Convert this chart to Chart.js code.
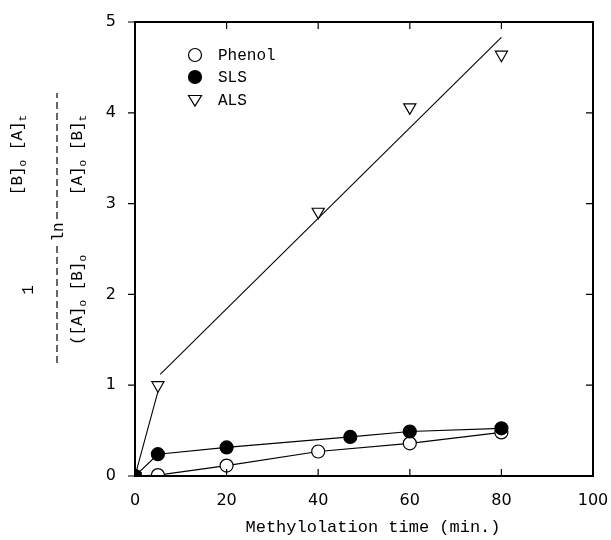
<!DOCTYPE html>
<html>
<head>
<meta charset="utf-8">
<script src="https://cdn.jsdelivr.net/npm/chart.js@4"></script>
<style>
  html, body { margin: 0; padding: 0; background: #fff; }
  #wrap { width: 611px; height: 540px; }
</style>
</head>
<body>
<div id="wrap"><canvas id="c" width="611" height="540"></canvas></div>
<script>
// values
const phenolTime = [0, 5, 20, 40, 60, 80];
const phenolVal = [0, 0.01, 0.115, 0.27, 0.36, 0.48];
const slsTime = [0, 5, 20, 47, 60, 80];
const slsVal = [0, 0.24, 0.315, 0.43, 0.49, 0.525];
const alsTime = [0, 5, 40, 60, 80];
const alsVal = [0, 1.0, 2.91, 4.06, 4.64];
const alsStartTime = [0, 5];
const alsStartVal = [0, 0.93];
const alsFitTime = [5.5, 80];
const alsFitVal = [1.12, 4.83];
const xTicks = [0, 20, 40, 60, 80, 100];
const yTicks = [0, 1, 2, 3, 4, 5];
const legendLabels = ['Phenol', 'SLS', 'ALS'];

const pts = (xs, ys) => xs.map((x, i) => ({ x: x, y: ys[i] }));
const MONO = '"Liberation Mono", "DejaVu Sans Mono", monospace';

const boxPlugin = {
  id: 'box',
  afterDatasetsDraw(chart) {
    const { ctx, chartArea: a, scales } = chart;
    ctx.save();
    ctx.strokeStyle = '#000';
    ctx.lineWidth = 2;
    ctx.strokeRect(a.left, a.top, a.right - a.left, a.bottom - a.top);
    ctx.lineWidth = 1.2;
    ctx.beginPath();
    xTicks.forEach(v => {
      const px = scales.x.getPixelForValue(v);
      if (v > 0 && v < 100) {
        ctx.moveTo(px, a.bottom); ctx.lineTo(px, a.bottom - 7);
        ctx.moveTo(px, a.top); ctx.lineTo(px, a.top + 7);
      }
    });
    yTicks.forEach(v => {
      const py = scales.y.getPixelForValue(v);
      ctx.moveTo(a.left, py); ctx.lineTo(a.left - 7, py);
      if (v > 0 && v < 5) {
        ctx.moveTo(a.right, py); ctx.lineTo(a.right - 7, py);
      }
    });
    ctx.stroke();

    // legend
    const rows = [55, 77, 100];
    const lx = 195;
    ctx.lineWidth = 1.2;
    rows.forEach((ry, i) => {
      ctx.beginPath();
      if (i === 2) {
        ctx.moveTo(lx - 6.5, ry - 4.5);
        ctx.lineTo(lx + 6.5, ry - 4.5);
        ctx.lineTo(lx, ry + 6);
        ctx.closePath();
        ctx.fillStyle = '#fff';
        ctx.fill();
        ctx.stroke();
      } else {
        ctx.arc(lx, ry, 6.5, 0, Math.PI * 2);
        ctx.fillStyle = i === 0 ? '#fff' : '#000';
        ctx.fill();
        ctx.stroke();
      }
      ctx.fillStyle = '#000';
      ctx.font = '16px ' + MONO;
      ctx.textAlign = 'left';
      ctx.textBaseline = 'middle';
      ctx.fillText(legendLabels[i], lx + 23, ry + 1);
    });

    // x title
    ctx.font = '17px ' + MONO;
    ctx.textAlign = 'center';
    ctx.textBaseline = 'middle';
    ctx.fillText('Methylolation time (min.)', 373, 527);

    // y title: rotated fraction
    const rich = (parts, bx, cy) => {
      ctx.save();
      ctx.translate(bx, cy);
      ctx.rotate(-Math.PI / 2);
      ctx.textAlign = 'left';
      ctx.textBaseline = 'alphabetic';
      let w = 0;
      parts.forEach(p => {
        ctx.font = (p[1] ? '11px ' : '16px ') + MONO;
        w += ctx.measureText(p[0]).width;
      });
      let x = -w / 2;
      parts.forEach(p => {
        ctx.font = (p[1] ? '11px ' : '16px ') + MONO;
        ctx.fillText(p[0], x, p[1] ? 4 : 0);
        x += ctx.measureText(p[0]).width;
      });
      ctx.restore();
    };
    rich([['1']], 33, 290);
    rich([['(['], ['A'], [']'], ['o', 1], [' ['], ['B'], [']'], ['o', 1]], 82, 300);
    rich([['['], ['B'], [']'], ['o', 1], [' ['], ['A'], [']'], ['t', 1]], 22, 155);
    rich([['['], ['A'], [']'], ['o', 1], [' ['], ['B'], [']'], ['t', 1]], 82, 155);
    rich([['ln']], 63, 232);
    ctx.setLineDash([7, 4]);
    ctx.lineWidth = 1.2;
    ctx.beginPath();
    ctx.moveTo(57, 363); ctx.lineTo(57, 245);
    ctx.moveTo(57, 219); ctx.lineTo(57, 93);
    ctx.stroke();
    ctx.restore();
  }
};

const circleSet = (label, xs, ys, fill) => ({
  label: label,
  data: pts(xs, ys),
  showLine: true,
  borderColor: '#000',
  borderWidth: 1.2,
  pointRadius: 6.5,
  pointBorderWidth: 1.2,
  pointBackgroundColor: fill,
  pointBorderColor: '#000',
  pointStyle: 'circle'
});

new Chart(document.getElementById('c'), {
  type: 'scatter',
  data: {
    datasets: [
      circleSet('SLS', slsTime, slsVal, '#000'),
      circleSet('Phenol', phenolTime, phenolVal, '#fff'),
      {
        label: 'ALS',
        data: pts(alsTime, alsVal),
        showLine: false,
        pointStyle: 'triangle',
        rotation: 180,
        pointRadius: 7,
        pointBorderWidth: 1.2,
        pointBorderColor: '#000',
        pointBackgroundColor: '#fff'
      },
      {
        label: 'ALS start',
        data: pts(alsStartTime, alsStartVal),
        showLine: true,
        borderColor: '#000',
        borderWidth: 1.1,
        pointRadius: 0
      },
      {
        label: 'ALS fit',
        data: pts(alsFitTime, alsFitVal),
        showLine: true,
        borderColor: '#000',
        borderWidth: 1.1,
        pointRadius: 0
      }
    ]
  },
  options: {
    responsive: false,
    animation: false,
    layout: { padding: { top: 22, right: 18, left: 0, bottom: 0 } },
    plugins: { legend: { display: false }, tooltip: { enabled: false } },
    scales: {
      x: {
        type: 'linear',
        min: 0, max: 100,
        afterBuildTicks: s => { s.ticks = xTicks.map(v => ({ value: v })); },
        afterFit: s => { s.height = 64; s.paddingLeft = 0; s.paddingRight = 0; },
        grid: { display: false },
        border: { display: false },
        ticks: { color: '#000', padding: 7, font: { family: '"DejaVu Sans"', size: 16 } }
      },
      y: {
        type: 'linear',
        min: 0, max: 5,
        afterBuildTicks: s => { s.ticks = yTicks.map(v => ({ value: v })); },
        afterFit: s => { s.width = 135; s.paddingTop = 0; s.paddingBottom = 0; },
        grid: { display: false },
        border: { display: false },
        ticks: { color: '#000', padding: 11, font: { family: '"DejaVu Sans"', size: 16 } }
      }
    }
  },
  plugins: [boxPlugin]
});
</script>
</body>
</html>
